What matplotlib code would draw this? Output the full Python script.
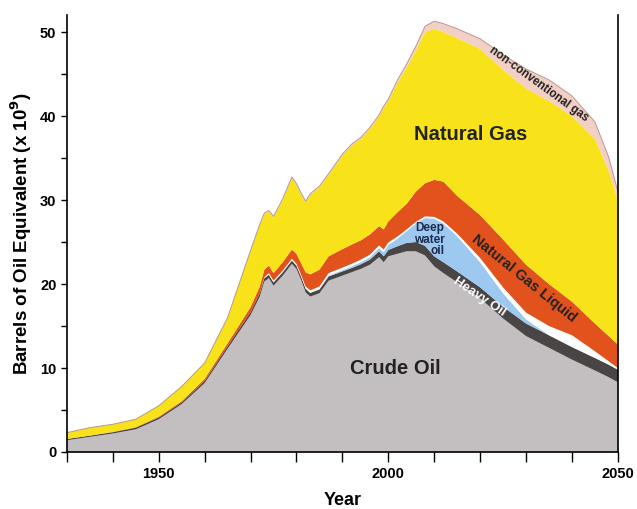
import numpy as np
import matplotlib.pyplot as plt
from matplotlib.ticker import MultipleLocator, FixedLocator

plt.rcParams['font.family'] = ['Liberation Sans', 'DejaVu Sans']

# years sampled from the chart
years = [1930, 1935, 1940, 1945, 1950, 1955, 1960, 1965, 1970, 1972, 1973, 1974,
         1975, 1977, 1979, 1980, 1981, 1982, 1983, 1985, 1987, 1990, 1992, 1994,
         1996, 1998, 1999, 2000, 2002, 2004, 2006, 2008, 2010, 2012, 2015, 2020,
         2025, 2030, 2035, 2040, 2045, 2048, 2050]

# thickness of each layer (billion barrels of oil equivalent)
crude_oil = [1.4, 1.8, 2.2, 2.7, 3.9, 5.7, 8.2, 12.3, 16.3, 18.5, 20.3, 20.7,
             19.8, 21.0, 22.4, 21.8, 20.5, 19.0, 18.5, 18.9, 20.4, 21.0, 21.4, 21.8,
             22.3, 23.2, 22.6, 23.3, 23.6, 23.9, 23.9, 23.4, 22.1, 21.3, 20.2, 18.3,
             15.9, 13.8, 12.4, 11.0, 9.7, 8.9, 8.3]
heavy_oil = [0.15, 0.15, 0.15, 0.2, 0.2, 0.2, 0.25, 0.3, 0.35, 0.4, 0.4, 0.4,
             0.4, 0.4, 0.4, 0.4, 0.4, 0.45, 0.45, 0.45, 0.5, 0.5, 0.5, 0.55,
             0.6, 0.7, 0.7, 0.75, 0.9, 1.0, 1.1, 1.15, 1.2, 1.3, 1.3, 1.3,
             1.4, 1.5, 1.5, 1.5, 1.5, 1.5, 1.5]
deep_water = [0, 0, 0, 0, 0, 0, 0, 0, 0, 0, 0, 0,
              0, 0, 0, 0, 0, 0, 0, 0.05, 0.1, 0.15, 0.2, 0.25,
              0.3, 0.4, 0.5, 0.6, 0.9, 1.4, 2.2, 3.3, 4.5, 4.6, 4.2, 3.0,
              1.6, 0.5, 0, 0, 0, 0, 0]
polar = [0, 0, 0, 0, 0, 0, 0, 0, 0, 0, 0.1, 0.2,
         0.2, 0.2, 0.2, 0.2, 0.2, 0.25, 0.3, 0.3, 0.3, 0.3, 0.3, 0.3,
         0.3, 0.3, 0.3, 0.3, 0.25, 0.2, 0.2, 0.2, 0.2, 0.25, 0.3, 0.5,
         0.7, 0.8, 1.1, 1.4, 0.8, 0.4, 0.2]
ngl = [0.0, 0.0, 0.05, 0.05, 0.1, 0.15, 0.25, 0.35, 0.6, 0.8, 0.9, 0.9,
       0.9, 1.0, 1.1, 1.2, 1.4, 1.7, 1.9, 2.0, 2.0, 2.2, 2.3, 2.3,
       2.4, 2.3, 2.4, 2.5, 2.9, 3.05, 3.6, 3.95, 4.4, 4.75, 4.5, 5.1,
       5.7, 5.7, 5.0, 4.0, 3.3, 3.0, 2.8]
natural_gas = [0.75, 0.95, 0.9, 0.95, 1.3, 1.75, 1.9, 3.05, 6.75, 7.3, 6.6, 6.4,
               6.6, 7.4, 8.5, 8.2, 8.2, 8.3, 9.45, 9.8, 9.7, 11.15, 11.8, 12.1,
               12.6, 13.1, 14.5, 14.35, 15.45, 16.25, 16.8, 18.0, 18.0, 17.8, 18.8, 19.8,
               20.2, 21.0, 21.8, 22.1, 22.0, 19.7, 17.2]
nonconv_gas = [0, 0, 0, 0, 0, 0, 0, 0, 0, 0.1, 0.15, 0.15,
               0.15, 0.15, 0.15, 0.15, 0.15, 0.15, 0.15, 0.15, 0.15, 0.15, 0.15, 0.15,
               0.15, 0.15, 0.2, 0.2, 0.3, 0.4, 0.5, 0.7, 0.9, 1.0, 1.1, 1.2,
               1.8, 2.3, 2.5, 2.4, 2.0, 1.6, 1.0]

colors = ['#c3bec0', '#4a4545', '#9dc8ef', '#ffffff', '#e1521c', '#f8e21a', '#f3d0c6']

fig = plt.figure(figsize=(6.37, 5.09), dpi=100)
ax = fig.add_axes([0.105, 0.112, 0.865, 0.858])

ax.stackplot(years, crude_oil, heavy_oil, deep_water, polar, ngl, natural_gas,
             nonconv_gas, colors=colors, linewidth=0)
total = np.sum([crude_oil, heavy_oil, deep_water, polar, ngl, natural_gas,
                nonconv_gas], axis=0)
ax.plot(years, total, color='#b89890', linewidth=0.7)

ax.set_xlim(1930, 2050)
ax.set_ylim(0, 52)

# labels inside the areas
ax.text(2018, 37.8, 'Natural Gas', fontsize=14.5, fontweight='bold',
        ha='center', va='center', color='#222222')
ax.text(2001.5, 10, 'Crude Oil', fontsize=14.5, fontweight='bold',
        ha='center', va='center', color='#222222')
ax.text(2012.2, 25.3, 'Deep\nwater\noil', fontsize=8.5, fontweight='bold',
        ha='right', va='center', color='#1d2b4d', linespacing=0.95,
        multialignment='right')
ax.text(2029.6, 20.6, 'Natural Gas Liquid', fontsize=10.5, fontweight='bold',
        ha='center', va='center', rotation=-39, color='#222222')
ax.text(2019.8, 18.5, 'Heavy Oil', fontsize=9.5, fontweight='bold',
        ha='center', va='center', rotation=-34, color='white')
ax.text(2032.8, 43.8, 'non-conventional gas', fontsize=8.3, fontweight='bold',
        ha='center', va='center', rotation=-36, color='#222222')

ax.spines['top'].set_visible(False)
ax.spines['left'].set_linewidth(1.2)
ax.spines['bottom'].set_linewidth(1.2)
ax.spines['right'].set_linewidth(1.2)

ax.xaxis.set_major_locator(FixedLocator([1950, 2000, 2050]))
ax.xaxis.set_minor_locator(MultipleLocator(10))
ax.yaxis.set_major_locator(MultipleLocator(10))
ax.yaxis.set_minor_locator(MultipleLocator(5))
ax.tick_params(axis='both', which='major', direction='out', length=4, width=1,
               labelsize=10.5)
ax.tick_params(axis='both', which='minor', direction='out', length=4, width=1)
ax.tick_params(axis='x', which='both', length=7)
for lab in ax.get_xticklabels() + ax.get_yticklabels():
    lab.set_fontweight('bold')

ax.set_xlabel('Year', fontsize=13, fontweight='bold', labelpad=8)
ax.set_ylabel('Barrels of Oil Equivalent (x 10$^{\\mathbf{9}}$)', fontsize=13.5,
              fontweight='bold', labelpad=4)

plt.savefig('out.png', dpi=100)
